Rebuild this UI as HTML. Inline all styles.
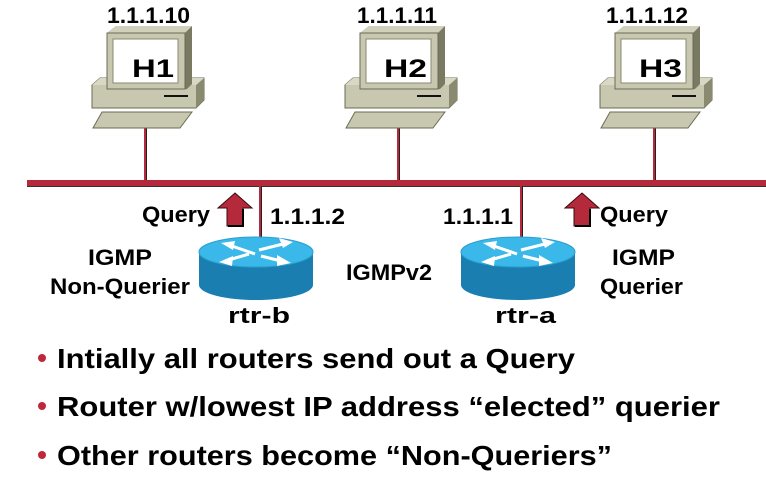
<!DOCTYPE html>
<html><head><meta charset="utf-8"><style>
html,body{margin:0;padding:0;background:#fff;}
svg{display:block;font-family:"Liberation Sans",Arial,sans-serif;font-weight:bold;}
</style></head><body>
<svg width="766" height="480" viewBox="0 0 766 480" xmlns="http://www.w3.org/2000/svg">
<defs>
<g id="host">
  <polygon points="0,85 8,78 112,78 112,100 104,108 0,108" fill="#c8c8b0" stroke="#6b6b55" stroke-width="1"/>
  <polygon points="104,85 112,78 112,100 104,108" fill="#8a8a70"/>
  <polygon points="0,85 8,78 112,78 104,85" fill="#d8d8c4"/>
  <line x1="72" y1="96" x2="96" y2="96" stroke="#111" stroke-width="2"/>
  <polygon points="15,33 24,26 100,26 100,84 95,89 15,89" fill="#7a7a62"/>
  <polygon points="15,33 24,26 100,26 93,33" fill="#d0d0bc"/>
  <rect x="15" y="33" width="78" height="56" fill="#c8c8b0" stroke="#6b6b55"/>
  <rect x="21" y="39" width="65" height="44" fill="#fff" stroke="#8a8a70"/>
  <polygon points="10,112 100,112 88,128 1,128" fill="#c8c8b0" stroke="#6b6b55"/>
</g>
<g id="router">
  <path d="M0,15 L0,48 A57,15 0 0 0 114,48 L114,15 Z" fill="#1a7fb0"/>
  <ellipse cx="57" cy="15" rx="57" ry="15" fill="#3ab8ea" stroke="#2a9fd0"/>
  <path d="M30,8 L56,17" stroke="#fff" stroke-width="3"/><path d="M22,6 L36,4 L34,13 Z" fill="#fff"/>
  <path d="M60,13 L88,6" stroke="#fff" stroke-width="3"/><path d="M94,5 L80,1 L84,11 Z" fill="#fff"/>
  <path d="M50,17 L26,24" stroke="#fff" stroke-width="3"/><path d="M20,25 L34,19 L33,29 Z" fill="#fff"/>
  <path d="M62,19 L86,25" stroke="#fff" stroke-width="3"/><path d="M92,26 L78,18 L78,29 Z" fill="#fff"/>
</g>
<g id="arrow">
  <polygon points="17,0 34,15 25,15 25,33 9,33 9,15 0,15" fill="#b52a3a" stroke="#3a0a10" stroke-width="1"/>
  <polyline points="25,16 25,33 10,33" fill="none" stroke="#000" stroke-width="2"/>
</g>
</defs>
<rect x="27" y="180" width="739" height="6" fill="#b52a3a"/>
<line x1="27" y1="186.5" x2="766" y2="186.5" stroke="#333" stroke-width="1"/>
<g stroke="#b52a3a" stroke-width="2">
<line x1="145" y1="128" x2="145" y2="180"/>
<line x1="398" y1="128" x2="398" y2="180"/>
<line x1="654" y1="128" x2="654" y2="180"/>
<line x1="260" y1="186" x2="260" y2="240"/>
<line x1="521" y1="186" x2="521" y2="240"/>
</g>
<g stroke="#222" stroke-width="1">
<line x1="146.5" y1="128" x2="146.5" y2="180"/>
<line x1="399.5" y1="128" x2="399.5" y2="180"/>
<line x1="655.5" y1="128" x2="655.5" y2="180"/>
<line x1="261.5" y1="186" x2="261.5" y2="240"/>
<line x1="522.5" y1="186" x2="522.5" y2="240"/>
</g>
<use href="#host" x="92" y="0"/>
<use href="#host" x="345" y="0"/>
<use href="#host" x="600" y="0"/>
<use href="#router" x="199" y="237"/>
<use href="#router" x="461" y="237"/>
<use href="#arrow" x="218" y="193"/>
<use href="#arrow" x="565" y="193"/>
<g font-size="22" fill="#000">
<text x="107" y="23" textLength="83" lengthAdjust="spacingAndGlyphs">1.1.1.10</text>
<text x="357" y="23" textLength="80" lengthAdjust="spacingAndGlyphs">1.1.1.11</text>
<text x="606" y="23" textLength="82" lengthAdjust="spacingAndGlyphs">1.1.1.12</text>
<text x="132" y="77" font-size="25" textLength="42" lengthAdjust="spacingAndGlyphs">H1</text>
<text x="384" y="77" font-size="25" textLength="43" lengthAdjust="spacingAndGlyphs">H2</text>
<text x="639" y="77" font-size="25" textLength="43" lengthAdjust="spacingAndGlyphs">H3</text>
<text x="142" y="222" textLength="68" lengthAdjust="spacingAndGlyphs">Query</text>
<text x="270" y="224" textLength="75" lengthAdjust="spacingAndGlyphs">1.1.1.2</text>
<text x="443" y="224" textLength="70" lengthAdjust="spacingAndGlyphs">1.1.1.1</text>
<text x="600" y="222" textLength="68" lengthAdjust="spacingAndGlyphs">Query</text>
<text x="88" y="265" textLength="64" lengthAdjust="spacingAndGlyphs">IGMP</text>
<text x="50" y="294" textLength="140" lengthAdjust="spacingAndGlyphs">Non-Querier</text>
<text x="346" y="280" textLength="86" lengthAdjust="spacingAndGlyphs">IGMPv2</text>
<text x="612" y="265" textLength="63" lengthAdjust="spacingAndGlyphs">IGMP</text>
<text x="600" y="294" textLength="83" lengthAdjust="spacingAndGlyphs">Querier</text>
<text x="228" y="323" textLength="62" lengthAdjust="spacingAndGlyphs">rtr-b</text>
<text x="495" y="323" textLength="61" lengthAdjust="spacingAndGlyphs">rtr-a</text>
</g>
<g fill="#c0283a">
<circle cx="42" cy="358" r="4"/>
<circle cx="42" cy="406" r="4"/>
<circle cx="42" cy="455" r="4"/>
</g>
<g font-size="28" fill="#000">
<text x="57" y="368" textLength="518" lengthAdjust="spacingAndGlyphs">Intially all routers send out a Query</text>
<text x="57" y="416" textLength="663" lengthAdjust="spacingAndGlyphs">Router w/lowest IP address “elected” querier</text>
<text x="57" y="465" textLength="555" lengthAdjust="spacingAndGlyphs">Other routers become “Non-Queriers”</text>
</g>
</svg>
</body></html>
